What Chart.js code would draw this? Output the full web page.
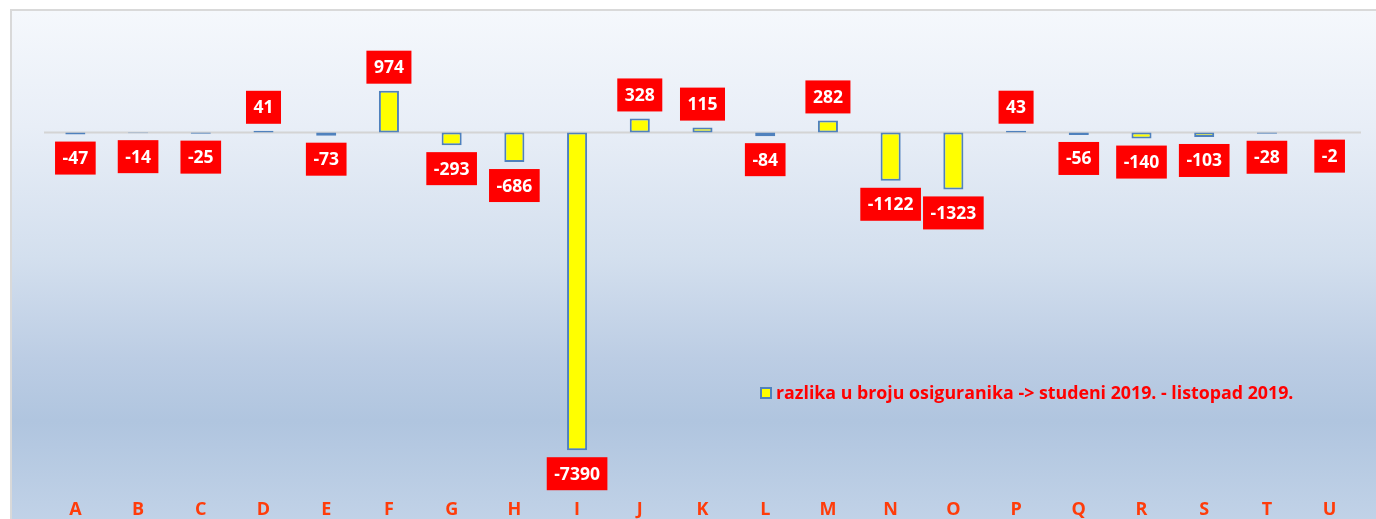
<!DOCTYPE html>
<html lang="hr">
<head>
<meta charset="utf-8" />
<title>Razlika u broju osiguranika</title>
<script src="https://cdn.jsdelivr.net/npm/chart.js"></script>
<style>
    html, body { margin: 0; padding: 0; background: #fff; overflow: hidden; }
    #frame {
        position: absolute; left: 10px; top: 9px; width: 1380px; height: 530px;
        border: 2px solid #d9d9d9; box-sizing: border-box;
        background: linear-gradient(to bottom, #f5f8fc 0%, #e8eef7 22%, #d3dfee 47%, #bccde4 66%, #b0c5df 78%, #c2d3e8 98%);
    }
    #wrap { position: absolute; left: 0; top: 0; width: 1364px; height: 514px; }
</style>
</head>
<body>
<div id="frame"><div id="wrap"><canvas id="razlikaChart"></canvas></div></div>

<script>
    const categories = ['A', 'B', 'C', 'D', 'E', 'F', 'G', 'H', 'I', 'J', 'K',
                        'L', 'M', 'N', 'O', 'P', 'Q', 'R', 'S', 'T', 'U'];
    const razlika = [-47, -14, -25, 41, -73, 974, -293, -686, -7390, 328, 115,
                     -84, 282, -1122, -1323, 43, -56, -140, -103, -28, -2];
    const seriesLabel = 'razlika u broju osiguranika -> studeni 2019. - listopad 2019.';

    const FONT = '"Open Sans", "Liberation Sans", sans-serif';

    // zero line, red value boxes and the legend inside the plot
    const decorations = {
        id: 'decorations',
        beforeDatasetsDraw(chart) {
            const { ctx, chartArea, scales } = chart;
            const y0 = scales.y.getPixelForValue(0);
            ctx.save();
            ctx.strokeStyle = '#d4d4d4';
            ctx.lineWidth = 2;
            ctx.beginPath();
            ctx.moveTo(chartArea.left, y0);
            ctx.lineTo(chartArea.right, y0);
            ctx.stroke();
            ctx.restore();
        },
        afterDatasetsDraw(chart) {
            const { ctx, chartArea } = chart;
            const meta = chart.getDatasetMeta(0);
            const values = chart.data.datasets[0].data;
            ctx.save();
            ctx.font = 'bold 17.5px ' + FONT;
            ctx.textAlign = 'center';
            ctx.textBaseline = 'middle';
            meta.data.forEach((bar, i) => {
                const v = values[i];
                const txt = String(v);
                const w = ctx.measureText(txt).width + 15;
                const h = 33;
                const gap = 7;
                const top = v >= 0 ? Math.min(bar.y, bar.base) - gap - h : Math.max(bar.y, bar.base) + gap;
                ctx.fillStyle = '#ff0000';
                ctx.fillRect(bar.x - w / 2, top, w, h);
                ctx.fillStyle = '#ffffff';
                ctx.fillText(txt, bar.x, top + h / 2 + 1);
            });

            // legend
            const lx = chartArea.left + 717;
            const ly = 382;
            ctx.fillStyle = '#ffff00';
            ctx.strokeStyle = '#4f81bd';
            ctx.lineWidth = 2;
            ctx.fillRect(lx, ly - 5, 10, 10);
            ctx.strokeRect(lx, ly - 5, 10, 10);
            ctx.font = 'bold 17.8px ' + FONT;
            ctx.textAlign = 'left';
            ctx.fillStyle = '#ff0000';
            ctx.fillText(chart.data.datasets[0].label, lx + 15, ly + 1);
            ctx.restore();
        }
    };

    const ctx = document.getElementById('razlikaChart').getContext('2d');
    new Chart(ctx, {
        type: 'bar',
        data: {
            labels: categories,
            datasets: [{
                label: seriesLabel,
                data: razlika,
                backgroundColor: '#ffff00',
                borderColor: '#4f81bd',
                borderWidth: 2,
                borderSkipped: false,
                barPercentage: 0.8,
                categoryPercentage: 0.4
            }]
        },
        options: {
            responsive: true,
            maintainAspectRatio: false,
            animation: false,
            layout: { padding: { left: 32, right: 15, top: 18, bottom: 0 } },
            scales: {
                y: {
                    display: false,
                    min: -8255,
                    max: 2409
                },
                x: {
                    grid: { display: false },
                    border: { display: false },
                    ticks: {
                        color: '#ff3c0a',
                        padding: 4,
                        font: { family: FONT, size: 18, weight: 'bold' }
                    }
                }
            },
            plugins: {
                legend: { display: false },
                tooltip: { enabled: false }
            }
        },
        plugins: [decorations]
    });
</script>
</body>
</html>
